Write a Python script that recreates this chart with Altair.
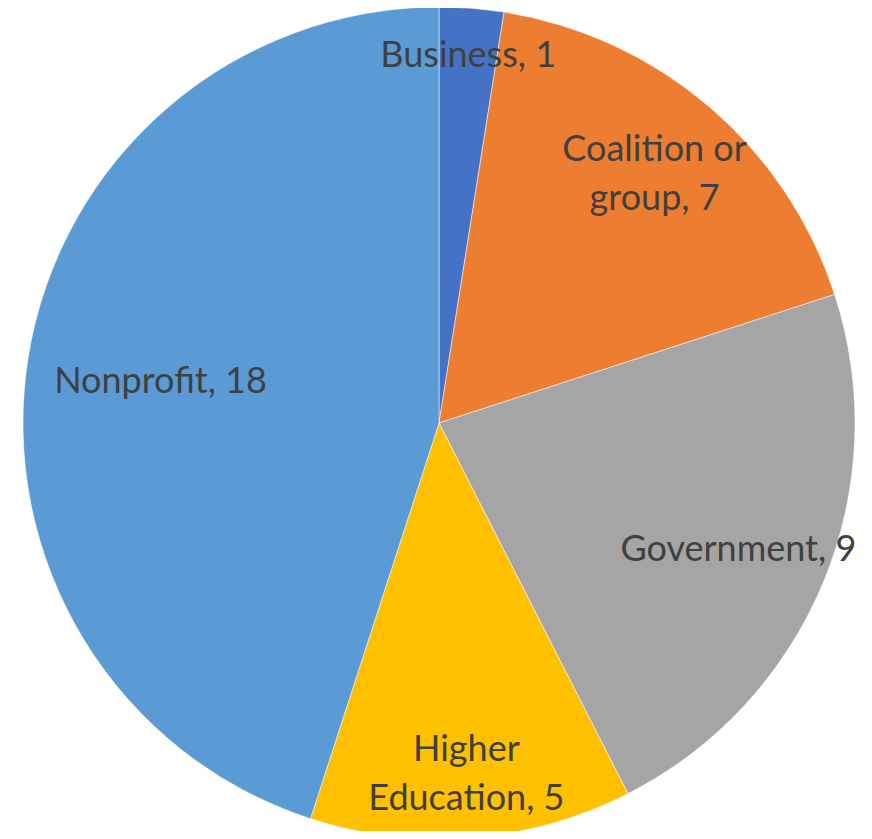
import altair as alt
import pandas as pd

categories = ["Business", "Coalition or group", "Government", "Higher Education", "Nonprofit"]
values = [1, 7, 9, 5, 18]
label_texts = ["Business, 1", "Coalition or\ngroup, 7", "Government, 9", "Higher\nEducation, 5", "Nonprofit, 18"]
colors = ["#4472C4", "#ED7D31", "#A5A5A5", "#FFC000", "#5B9BD5"]
# label placement radii (style, px)
label_radius = [372, 332, 324, 349, 282]

df = pd.DataFrame({
    "category": categories,
    "value": values,
    "label": label_texts,
    "order": list(range(len(categories))),
    "lr": label_radius,
})
total = sum(values)

CX, CY, R = 431, 415, 416

base = alt.Chart(df).transform_window(
    cum="sum(value)", sort=[alt.SortField("order")], frame=[None, 0]
).transform_calculate(
    start="datum.cum - datum.value", mid="datum.cum - datum.value / 2",
    multi="indexof(datum.label, '\\n') >= 0",
)

theta_scale = alt.Scale(domain=[0, total], range=[0, 6.283185307179586])

pie = base.mark_arc(outerRadius=R, stroke="white", strokeWidth=0.5).encode(
    x=alt.value(CX), y=alt.value(CY),
    theta=alt.Theta("start:Q", scale=theta_scale),
    theta2="cum:Q",
    color=alt.Color("category:N", scale=alt.Scale(domain=categories, range=colors), legend=None),
)

text_props = dict(fontSize=36, font="Lato", color="#404040", align="center",
                  baseline="middle", lineBreak="\n", lineHeight=49)
text_enc = dict(
    x=alt.value(CX), y=alt.value(CY),
    theta=alt.Theta("mid:Q", scale=theta_scale),
    text="label:N",
    radius=alt.Radius("lr:Q", scale=None),
)

text1 = base.transform_filter("!datum.multi").mark_text(dy=3.5, **text_props).encode(**text_enc)
text2 = base.transform_filter("datum.multi").mark_text(dy=-20.5, **text_props).encode(**text_enc)

chart = (pie + text1 + text2).properties(
    width=856, height=823, padding=0, autosize=alt.AutoSizeParams(type="none")
).configure_view(stroke=None)

chart.save("out.html", embed_options={"renderer": "svg", "actions": False})
